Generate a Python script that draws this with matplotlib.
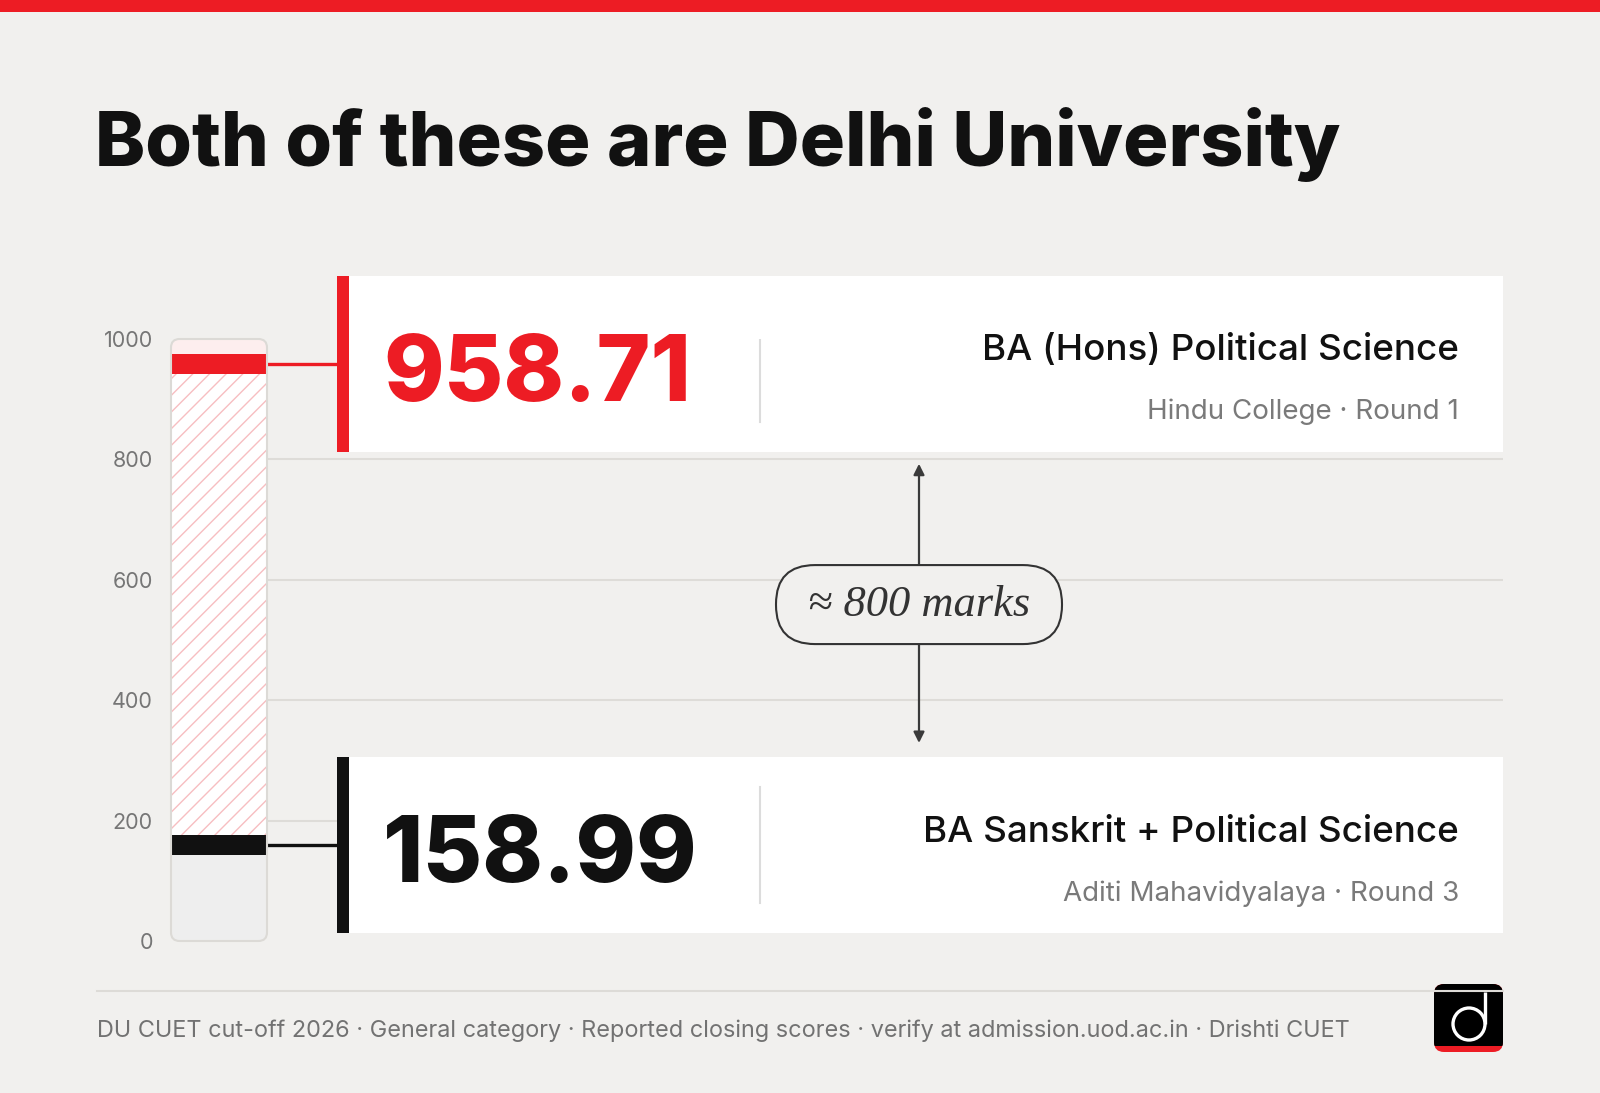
import matplotlib.pyplot as plt
from matplotlib.patches import Rectangle, FancyBboxPatch, Circle

plt.rcParams["font.family"] = ["Inter", "DejaVu Sans"]
plt.rcParams["hatch.linewidth"] = 1.0

# --- Data ---
scores = [958.71, 158.99]
score_labels = ["958.71", "158.99"]
courses = ["BA (Hons) Political Science", "BA Sanskrit + Political Science"]
colleges = ["Hindu College · Round 1", "Aditi Mahavidyalaya · Round 3"]
yticks = [0, 200, 400, 600, 800, 1000]
gridlines = [200, 400, 600, 800]
gap_label = "≈ 800 marks"
title = "Both of these are Delhi University"
footer = ("DU CUET cut-off 2026 · General category · Reported closing scores · "
          "verify at admission.uod.ac.in · Drishti CUET")

# --- Style ---
BG = "#f1f0ee"
RED = "#ed1c24"
INK = "#111111"
accents = [RED, INK]
band = 16.5          # half height of the score marker on the bar
card_half = 146      # half height of a card, in score units

W, H = 1600, 1093
fig = plt.figure(figsize=(16, 10.93), dpi=100, facecolor=BG)

# layout axes in pixel units (title, footer, logo)
lay = fig.add_axes([0, 0, 1, 1])
lay.set_xlim(0, W)
lay.set_ylim(H, 0)
lay.axis("off")

# score axes: 0 at y=941px, 1000 at y=339px
y0_px, y1000_px = 941, 339
ax_pos = [0, (H - y0_px) / H, 1, (y0_px - y1000_px) / H]
px_per_unit = (y0_px - y1000_px) / 1000
ax = fig.add_axes(ax_pos, zorder=2)
ax.set_xlim(0, W)
ax.set_ylim(0, 1000)
ax.axis("off")
ax.patch.set_visible(False)

bar_left, bar_right = 171, 267
card_left, card_right = 337, 1503

# --- Bar (score track) ---
bx = fig.add_axes([bar_left / W, ax_pos[1], (bar_right - bar_left) / W, ax_pos[3]], zorder=3)
bx.set_xlim(0, 1)
bx.set_ylim(0, 1000)
bx.patch.set_visible(False)
for s in bx.spines.values():
    s.set_visible(False)
bx.set_xticks([])
bx.set_yticks(yticks)
bx.tick_params(axis="y", length=0, pad=13, labelsize=15.5, labelcolor="#767676")

aspect = (bar_right - bar_left) / px_per_unit
track = FancyBboxPatch((0, 0), 1, 1000, boxstyle="round,pad=0,rounding_size=0.09",
                       mutation_aspect=aspect, fc="none", ec="#dcdad6", lw=1.5,
                       clip_on=False, zorder=5)
bx.add_patch(track)

hi, lo = scores
segs = [
    bx.bar(0.5, lo - band, width=1, bottom=0, color="#eeeeee", lw=0),
    bx.bar(0.5, 2 * band, width=1, bottom=lo - band, color=INK, lw=0),
    bx.bar(0.5, (hi - band) - (lo + band), width=1, bottom=lo + band, facecolor="white",
           edgecolor="#f7bec1", hatch="//", lw=0),
    bx.bar(0.5, 2 * band, width=1, bottom=hi - band, color=RED, lw=0),
    bx.bar(0.5, 1000 - (hi + band), width=1, bottom=hi + band, color="#fdeeee", lw=0),
]
for bc in segs:
    for p in bc:
        p.set_clip_path(track)

# --- Grid ---
ax.hlines(gridlines, bar_right, card_right, color="#dedcd8", lw=1.5, zorder=0)

# --- Cards ---
for s, lab, course, college, col in zip(scores, score_labels, courses, colleges, accents):
    ax.plot([bar_right, card_left], [s, s], color=col, lw=2.4, zorder=1, solid_capstyle="butt")
    ax.add_patch(Rectangle((card_left, s - card_half), card_right - card_left, 2 * card_half,
                           fc="white", lw=0, clip_on=False, zorder=2))
    ax.add_patch(Rectangle((card_left, s - card_half), 12, 2 * card_half,
                           fc=col, lw=0, clip_on=False, zorder=3))
    ax.text(383, s - 61, lab, fontsize=66, fontweight="heavy", color=col,
            va="baseline", ha="left", zorder=4)
    ax.plot([760, 760], [s - 96, s + 96], color="#dcdcdc", lw=1.5, zorder=3)
    ax.text(1459, s + 6, course, fontsize=26.5, fontweight="medium", color=INK,
            va="baseline", ha="right", zorder=4)
    ax.text(1459, s - 92, college, fontsize=20, color="#7a7a7a",
            va="baseline", ha="right", zorder=4)

# --- Gap arrow + pill ---
mid = sum(scores) / 2
ax_x = 919
ax.annotate("", xy=(ax_x, hi - card_half - 20), xytext=(ax_x, lo + card_half + 24),
            arrowprops=dict(arrowstyle="<|-|>", color="#3a3a3a", lw=1.6,
                            mutation_scale=16, shrinkA=0, shrinkB=0), zorder=3)
pill_w, pill_h = 286, 79 / px_per_unit
ax.add_patch(FancyBboxPatch((ax_x - pill_w / 2, mid - pill_h / 2), pill_w, pill_h,
                            boxstyle="round,pad=0,rounding_size=39", mutation_aspect=1 / px_per_unit,
                            fc=BG, ec="#333333", lw=1.5, zorder=4, clip_on=False))
ax.text(ax_x, mid, gap_label, fontsize=32, style="italic", family="Liberation Serif",
        color="#333333", ha="center", va="center", zorder=5)

# --- Title, footer, logo ---
lay.add_patch(Rectangle((0, 0), W, 12, fc=RED, lw=0))
lay.text(95, 166, title, fontsize=54.4, fontweight="heavy", color=INK, va="baseline")
lay.plot([97, 1503], [991, 991], color="#dddbd7", lw=1.5)
lay.text(97, 1037, footer, fontsize=16.9, color="#727272", va="baseline")

logo = FancyBboxPatch((1434, 984), 69, 68, boxstyle="round,pad=0,rounding_size=10",
                      fc=RED, lw=0)
lay.add_patch(logo)
top = Rectangle((1434, 984), 69, 62, fc="black", lw=0)
lay.add_patch(top)
top.set_clip_path(logo)
lay.add_patch(Circle((1469, 1024), 16, fc="none", ec="white", lw=2.4))
lay.plot([1485, 1485], [992, 1024], color="white", lw=2.4, solid_capstyle="butt")

fig.savefig("out.png", dpi=100, facecolor=BG)
